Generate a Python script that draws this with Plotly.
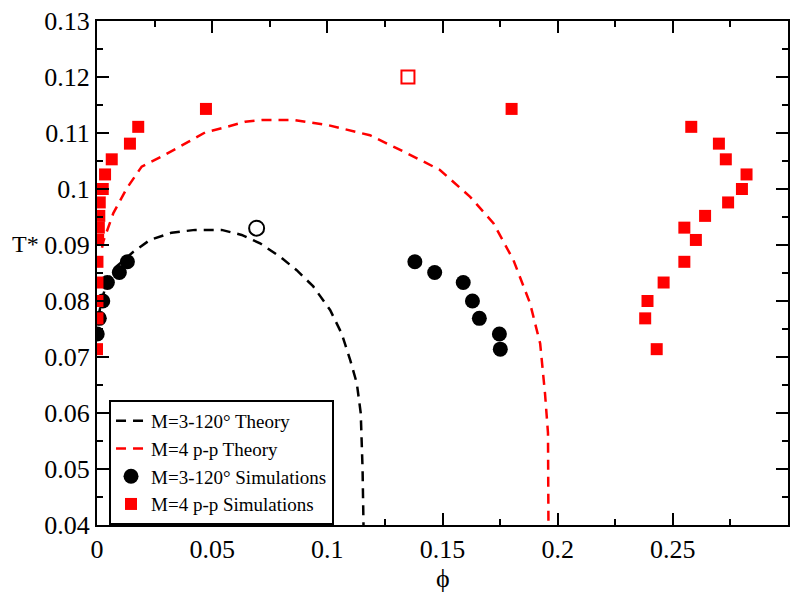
import plotly.graph_objects as go

# ---- data ----
theory3_x = [0.0005, 0.002, 0.004, 0.008, 0.0158, 0.0230, 0.0324, 0.0426, 0.0541, 0.0628, 0.0708,
             0.0795, 0.0867, 0.0939, 0.1012, 0.1062, 0.1099, 0.1128, 0.1145, 0.1153, 0.1157]
theory3_y = [0.0770, 0.0800, 0.0830, 0.0860, 0.0888, 0.0909, 0.0922, 0.0927, 0.0927, 0.0918, 0.0903,
             0.0879, 0.0855, 0.0826, 0.0784, 0.0742, 0.0695, 0.0653, 0.0600, 0.0500, 0.0400]

theory4_x = [0.0022, 0.0027, 0.0071, 0.0129, 0.0194, 0.0281, 0.0396, 0.0469, 0.0556, 0.0643, 0.0715,
             0.0860, 0.1004, 0.1185, 0.1345, 0.1489, 0.1620, 0.1721, 0.1808, 0.1880, 0.1924,
             0.1945, 0.1958, 0.1960, 0.1960]
theory4_y = [0.0895, 0.0906, 0.0957, 0.1001, 0.1040, 0.1058, 0.1084, 0.1101, 0.1110, 0.1120, 0.1123,
             0.1123, 0.1114, 0.1096, 0.1064, 0.1034, 0.0986, 0.0939, 0.0873, 0.0796, 0.0724,
             0.0635, 0.0564, 0.0480, 0.0400]

sim3_x = [0.0001, 0.0010, 0.0025, 0.0045, 0.0097, 0.0132,
          0.1380, 0.1466, 0.1590, 0.1630, 0.1660, 0.1747, 0.1751]
sim3_y = [0.0741, 0.0769, 0.0800, 0.0833, 0.0851, 0.0870,
          0.0870, 0.0851, 0.0833, 0.0800, 0.0769, 0.0741, 0.0714]

sim4_x = [0.0000, 0.0002, 0.0002, 0.0002, 0.0002, 0.0005, 0.0008, 0.0010, 0.0012, 0.0025,
          0.0035, 0.0064, 0.0143, 0.0179, 0.0473,
          0.1800, 0.2580, 0.2700, 0.2730, 0.2820, 0.2800, 0.2740, 0.2640, 0.2550, 0.2600,
          0.2550, 0.2460, 0.2390, 0.2380, 0.2430]
sim4_y = [0.0714, 0.0769, 0.0800, 0.0833, 0.0870, 0.0909, 0.0931, 0.0952, 0.0976, 0.1000,
          0.1026, 0.1053, 0.1081, 0.1111, 0.1143,
          0.1143, 0.1111, 0.1081, 0.1053, 0.1026, 0.1000, 0.0976, 0.0952, 0.0931, 0.0909,
          0.0870, 0.0833, 0.0800, 0.0769, 0.0714]

crit3_x = [0.0693]
crit3_y = [0.0930]
crit4_x = [0.1350]
crit4_y = [0.1200]

x_ticks = [0, 0.05, 0.1, 0.15, 0.2, 0.25]
x_ticktext = ["0", "0.05", "0.1", "0.15", "0.2", "0.25"]
y_ticks = [0.04, 0.05, 0.06, 0.07, 0.08, 0.09, 0.10, 0.11, 0.12, 0.13]
y_ticktext = ["0.04", "0.05", "0.06", "0.07", "0.08", "0.09", "0.1", "0.11", "0.12", "0.13"]

FONT = "Liberation Serif"

fig = go.Figure()
fig.add_trace(go.Scatter(x=theory3_x, y=theory3_y, mode="lines", name="M=3-120° Theory",
                         line=dict(color="black", width=2.5, dash="10px,7px")))
fig.add_trace(go.Scatter(x=theory4_x, y=theory4_y, mode="lines", name="M=4 p-p Theory",
                         line=dict(color="red", width=2.5, dash="10px,7px")))
fig.add_trace(go.Scatter(x=sim3_x, y=sim3_y, mode="markers", name="M=3-120° Simulations",
                         marker=dict(symbol="circle", size=15, color="black", line=dict(width=0))))
fig.add_trace(go.Scatter(x=sim4_x, y=sim4_y, mode="markers", name="M=4 p-p Simulations",
                         marker=dict(symbol="square", size=12, color="red", line=dict(width=0))))
fig.add_trace(go.Scatter(x=crit3_x, y=crit3_y, mode="markers", showlegend=False,
                         marker=dict(symbol="circle-open", size=15, color="black", line=dict(width=2, color="black"))))
fig.add_trace(go.Scatter(x=crit4_x, y=crit4_y, mode="markers", showlegend=False,
                         marker=dict(symbol="square-open", size=13, color="red", line=dict(width=2, color="red"))))

axis_common = dict(showline=True, linecolor="black", linewidth=2, mirror="allticks",
                   ticks="inside", ticklen=12, tickwidth=2, tickcolor="black",
                   showgrid=False, zeroline=False, automargin=False,
                   tickfont=dict(family=FONT, size=26, color="black"))

fig.update_xaxes(range=[0, 0.3], tickvals=x_ticks, ticktext=x_ticktext,
                 minor=dict(ticks="inside", ticklen=6, tickwidth=2, tickcolor="black", dtick=0.025, tick0=0),
                 **axis_common)
fig.update_yaxes(range=[0.04, 0.13], tickvals=y_ticks, ticktext=y_ticktext,
                 minor=dict(ticks="inside", ticklen=6, tickwidth=2, tickcolor="black", dtick=0.005, tick0=0.04),
                 **axis_common)

fig.update_layout(
    width=800, height=592,
    margin=dict(l=97, r=12, t=21, b=67),
    plot_bgcolor="white", paper_bgcolor="white",
    font=dict(family=FONT, color="black"),
    legend=dict(x=0.0174, y=0.248, xanchor="left", yanchor="top",
                bgcolor="white", bordercolor="black", borderwidth=2,
                font=dict(family=FONT, size=19, color="black"),
                tracegroupgap=0, itemwidth=30),
    annotations=[
        dict(text="T*", xref="paper", yref="paper", x=-0.104, y=0.5575,
             xanchor="center", yanchor="middle", showarrow=False,
             font=dict(family=FONT, size=24, color="black")),
        dict(text="ϕ", xref="paper", yref="paper", x=0.5, y=-0.106,
             xanchor="center", yanchor="middle", showarrow=False,
             font=dict(family=FONT, size=26, color="black")),
    ],
)

fig.write_html("out.html", config={"displayModeBar": False},
               post_script="document.body.style.margin='0px';document.body.style.overflow='hidden';")
